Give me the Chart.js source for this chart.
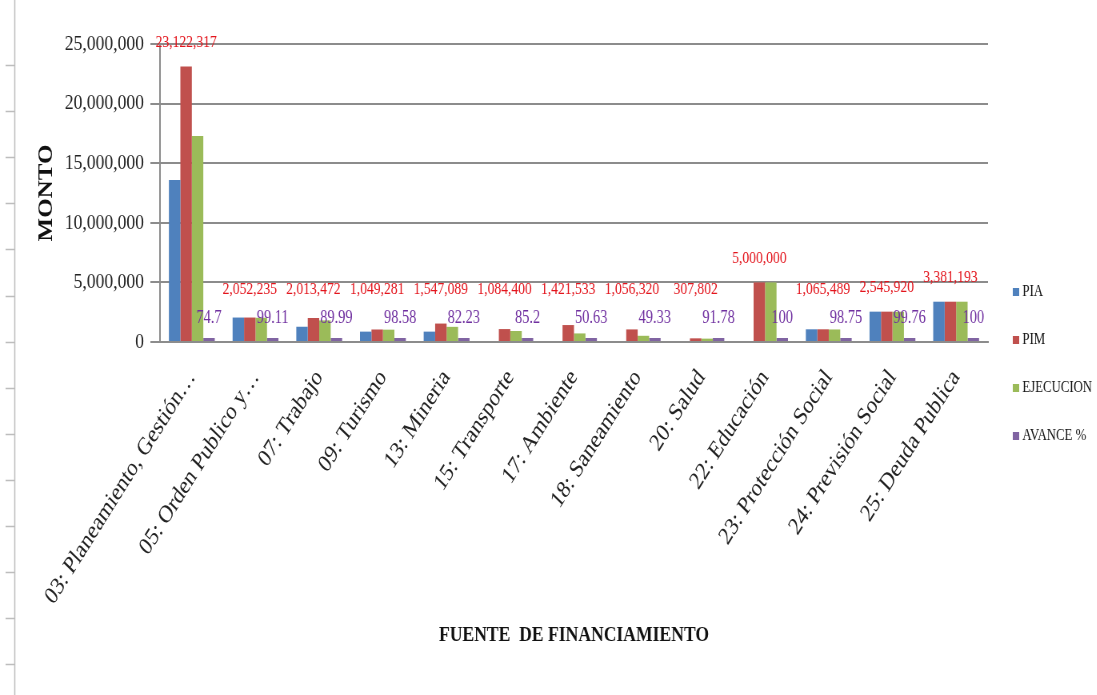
<!DOCTYPE html>
<html>
<head>
<meta charset="utf-8">
<script src="https://cdn.jsdelivr.net/npm/chart.js@4.4.1/dist/chart.umd.min.js"></script>
<style>
  html, body { margin: 0; padding: 0; background: #fff; overflow: hidden; }
  /* el grafico original esta comprimido a lo ancho */
  #marco { width: 1371px; height: 695px; transform: scaleX(0.8); transform-origin: 0 0; }
</style>
</head>
<body>
<div id="marco"><canvas id="grafico" width="1371" height="695"></canvas></div>
<script>
// Datos del grafico
const categorias = ["03: Planeamiento, Gestión…", "05: Orden Publico y…", "07: Trabajo", "09: Turismo",
    "13: Mineria", "15: Transporte", "17: Ambiente", "18: Saneamiento", "20: Salud", "22: Educación",
    "23: Protección Social", "24: Previsión Social", "25: Deuda Publica"];
const pia = [13600000, 2052235, 1280000, 870000, 870000, 0, 0, 0, 0, 0, 1065489, 2545920, 3381193];
const pim = [23122317, 2052235, 2013472, 1049281, 1547089, 1084400, 1421533, 1056320, 307802, 5000000, 1065489, 2545920, 3381193];
const ejecucion = [17272371, 2033969, 1811924, 1034381, 1272171, 923909, 719722, 521083, 282501, 5000000, 1052171, 2539810, 3381193];
const avance = [74.7, 99.11, 89.99, 98.58, 82.23, 85.2, 50.63, 49.33, 91.78, 100, 98.75, 99.76, 100];
const ticksMonto = [0, 5000000, 10000000, 15000000, 20000000, 25000000];

const serif = "'Liberation Serif', 'Times New Roman', serif";

// Etiquetas de PIM (rojo) y AVANCE % (morado)
const etiquetas = {
    id: "etiquetas",
    afterDatasetsDraw(chart) {
        let ctx = chart.ctx;
        let base = chart.scales.y.getPixelForValue(0);
        let barrasPim = chart.getDatasetMeta(1).data;
        let barrasAv = chart.getDatasetMeta(3).data;
        ctx.save();
        ctx.textAlign = "center";
        ctx.textBaseline = "middle";
        barrasPim.forEach((barra, i) => {
            ctx.font = "17px " + serif;
            ctx.fillStyle = "#e3141c";
            ctx.fillText(pim[i].toLocaleString("en-US"), barra.x, Math.min(barra.y - 24, base - 52));
            ctx.font = "18px " + serif;
            ctx.fillStyle = "#7030a0";
            ctx.fillText(String(avance[i]), barrasAv[i].x, base - 24);
        });
        ctx.restore();
    }
};

// Leyenda a la derecha
const leyenda = {
    id: "leyenda",
    afterDraw(chart) {
        let ctx = chart.ctx;
        let x = chart.chartArea.right + 31;
        ctx.save();
        ctx.font = "16px " + serif;
        ctx.textBaseline = "middle";
        chart.data.datasets.forEach((ds, i) => {
            let y = chart.chartArea.top + 248 + i * 48;
            ctx.fillStyle = ds.backgroundColor;
            ctx.fillRect(x, y - 4, 8, 8);
            ctx.fillStyle = "#111";
            ctx.fillText(ds.label, x + 12, y);
        });
        ctx.restore();
    }
};

// Regla gris del documento a la izquierda
const regla = {
    id: "regla",
    beforeDraw(chart) {
        let ctx = chart.ctx;
        ctx.save();
        ctx.strokeStyle = "#bdbdbd";
        ctx.lineWidth = 1.5;
        ctx.beginPath();
        ctx.moveTo(18.5, 0);
        ctx.lineTo(18.5, 695);
        for (let y = 65; y < 690; y += 46.1) {
            ctx.moveTo(7, Math.round(y) + 0.5);
            ctx.lineTo(18.5, Math.round(y) + 0.5);
        }
        ctx.stroke();
        ctx.restore();
    }
};

let ctx = document.getElementById("grafico").getContext("2d");
new Chart(ctx, {
    type: "bar",
    data: {
        labels: categorias,
        datasets: [
            { label: "PIA", data: pia, backgroundColor: "#4f81bd" },
            { label: "PIM", data: pim, backgroundColor: "#c0504d" },
            { label: "EJECUCION", data: ejecucion, backgroundColor: "#9bbb59" },
            { label: "AVANCE %", data: avance, backgroundColor: "#8064a2", minBarLength: 4 }
        ]
    },
    options: {
        responsive: false,
        animation: false,
        layout: { padding: { left: 40, right: 136, top: 44, bottom: 42 } },
        datasets: { bar: { categoryPercentage: 0.72, barPercentage: 1, borderWidth: 0 } },
        plugins: { legend: { display: false }, tooltip: { enabled: false } },
        scales: {
            x: {
                grid: { display: false },
                border: { color: "#8c8c8c", width: 2 },
                ticks: {
                    autoSkip: false, minRotation: 52, maxRotation: 52, padding: 14,
                    color: "#222", font: { family: serif, size: 25 }
                },
                title: {
                    display: true, text: "FUENTE  DE FINANCIAMIENTO", color: "#111",
                    font: { family: serif, size: 22, weight: "bold" }
                },
                afterFit(scale) { scale.height = 311; }
            },
            y: {
                min: 0,
                max: 25000000,
                afterBuildTicks(scale) { scale.ticks = ticksMonto.map(v => ({ value: v })); },
                grid: { color: "#8c8c8c", lineWidth: 2, tickLength: 12 },
                border: { color: "#8c8c8c", width: 2 },
                ticks: {
                    padding: 8, color: "#222", font: { family: serif, size: 22 },
                    callback: v => v.toLocaleString("en-US")
                },
                title: {
                    display: true, text: "MONTO", color: "#111",
                    font: { family: serif, size: 25, weight: "bold" }
                },
                afterFit(scale) { scale.width = 160; }
            }
        }
    },
    plugins: [regla, etiquetas, leyenda]
});
</script>
</body>
</html>
